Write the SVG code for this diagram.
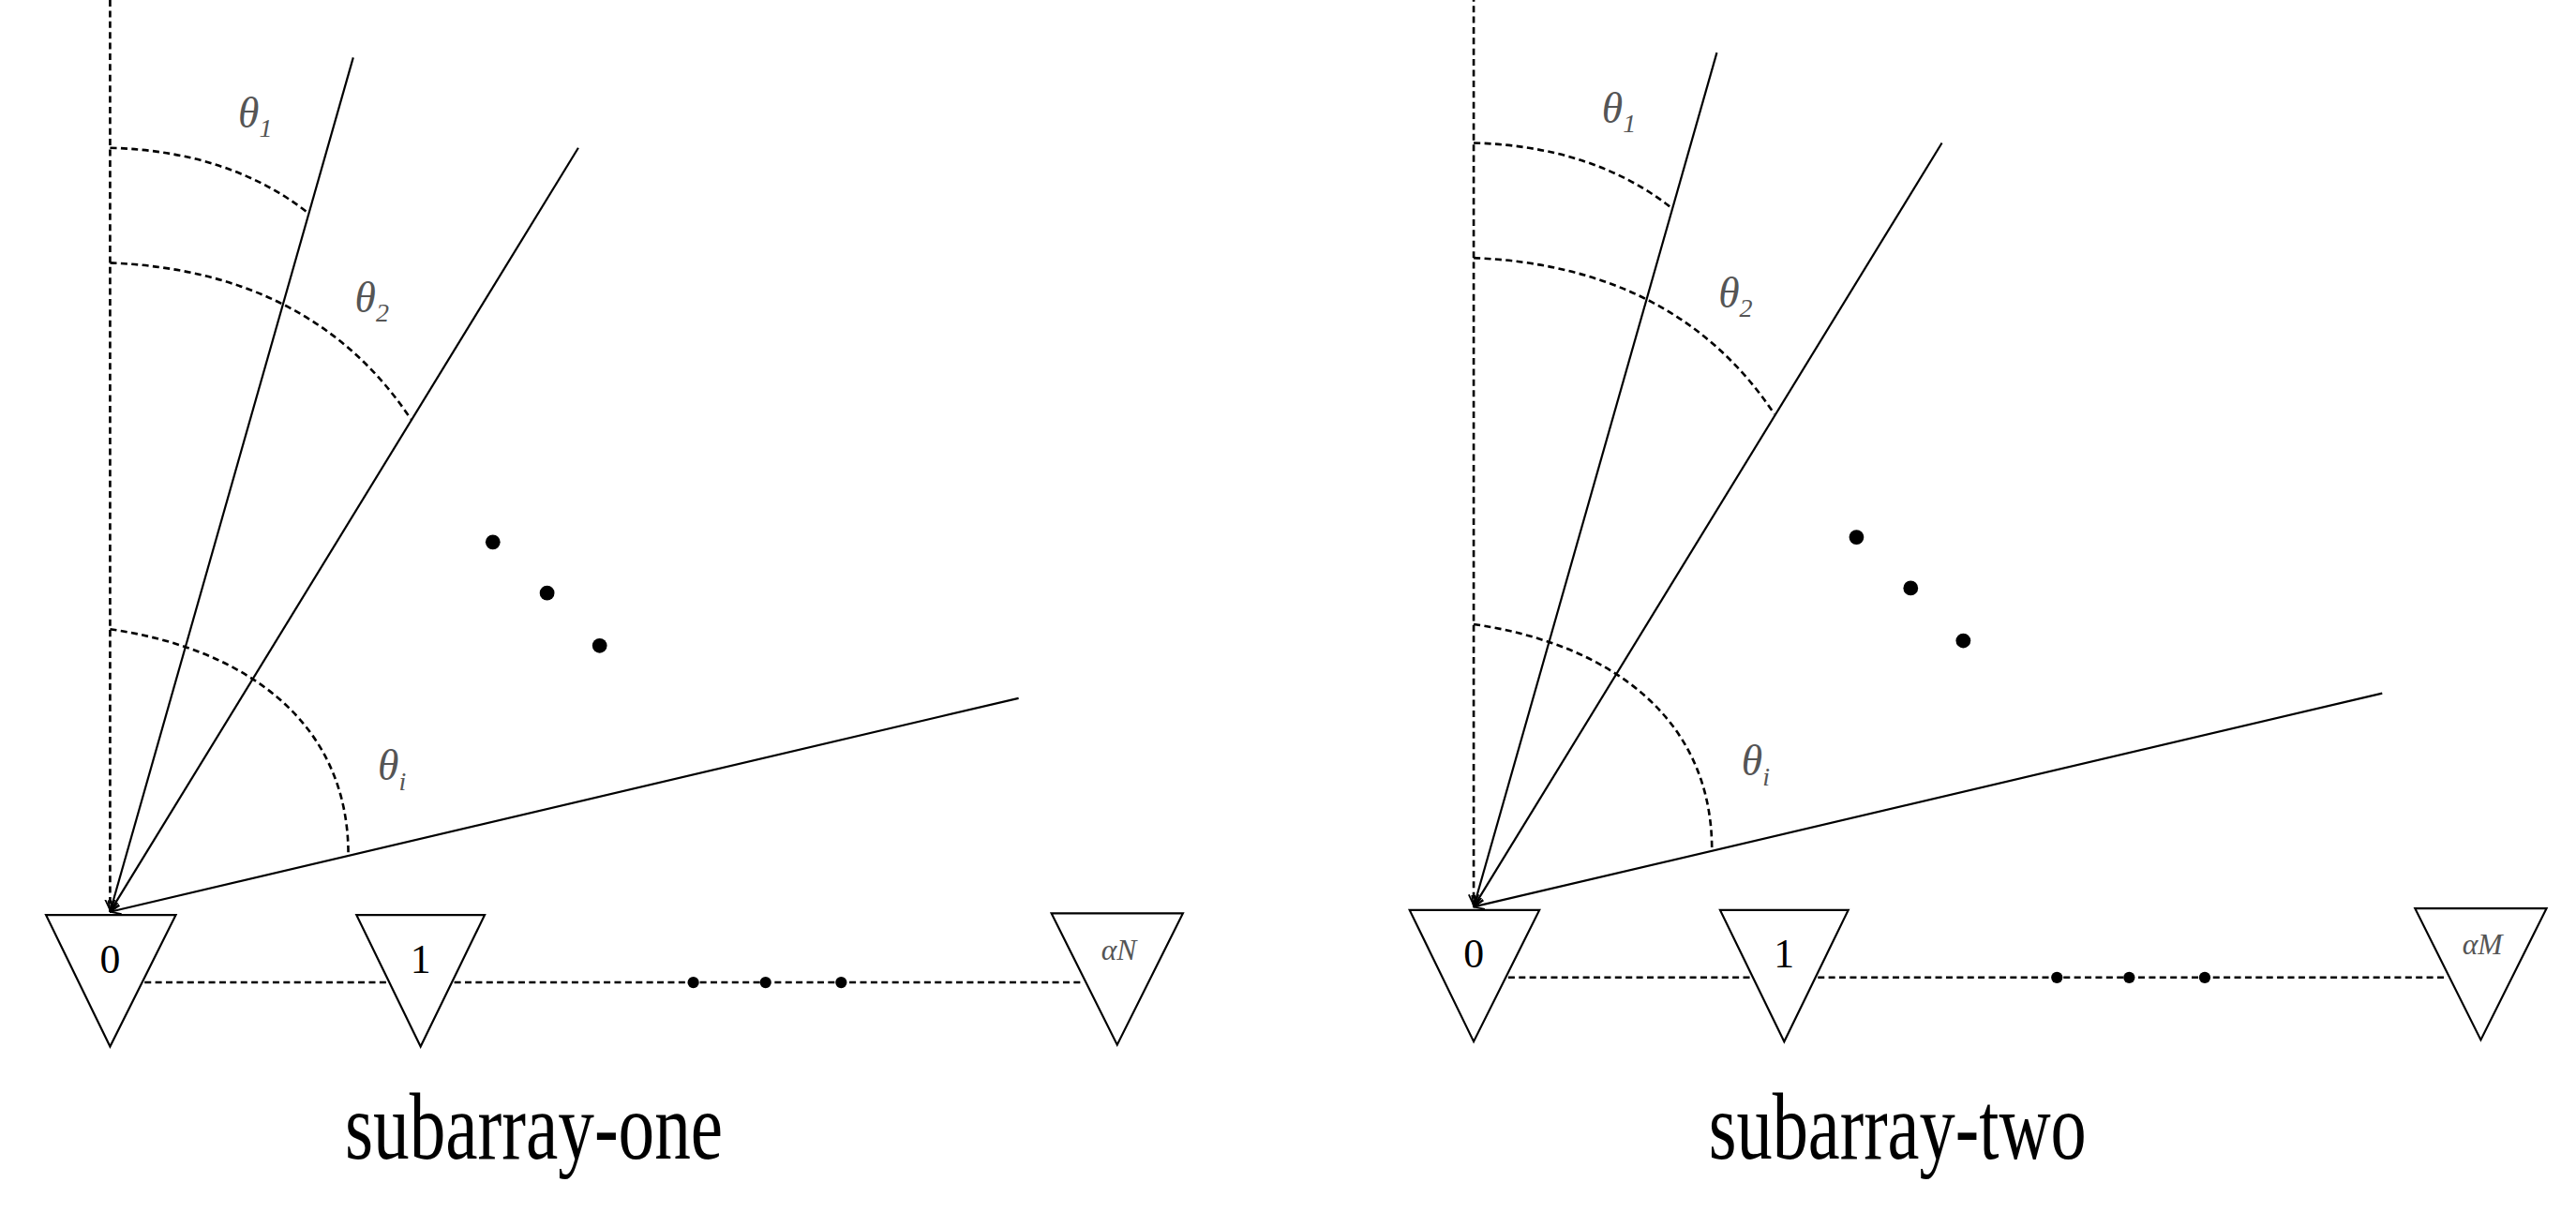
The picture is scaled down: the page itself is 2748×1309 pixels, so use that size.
<svg xmlns="http://www.w3.org/2000/svg" width="2748" height="1309" viewBox="0 0 2748 1309">
<style>
.s{stroke:#000;stroke-width:2.5;fill:none}
.d{stroke:#000;stroke-width:3;fill:none;stroke-dasharray:8,5}
.t{fill:#fff;stroke:#000;stroke-width:2.5}
.g{font-family:"Liberation Serif",serif;font-style:italic;fill:#555}
.n{font-family:"Liberation Serif",serif;fill:#000}
.cap{font-family:"Liberation Serif",serif;font-size:115px;fill:#000}
</style>
<defs>
<marker id="a" markerWidth="14" markerHeight="14" refX="13" refY="7" orient="auto" markerUnits="userSpaceOnUse"><path d="M0,1 L13,7 L0,13" fill="none" stroke="#000" stroke-width="2"/></marker>
<g id="panel">
<g id="rays">
<line class="d" x1="134" y1="0" x2="134" y2="1108" marker-end="url(#a)"/>
<line class="s" x1="430" y1="70" x2="134" y2="1110" marker-end="url(#a)"/>
<line class="s" x1="704" y1="180" x2="134" y2="1110" marker-end="url(#a)"/>
<line class="s" x1="1240" y1="850" x2="134" y2="1110" marker-end="url(#a)"/>
<path class="d" d="M134,180 Q280,184 376,260"/>
<path class="d" d="M134,320 Q380,330 500,510"/>
<path class="d" d="M134,766 C300,790 424,880 424,1040"/>
<line class="d" x1="176" y1="1196" x2="1320" y2="1196"/>
</g>
<text class="g" x="290" y="155" font-size="52">θ<tspan font-size="32" dy="12">1</tspan></text>
<text class="g" x="432" y="380" font-size="52">θ<tspan font-size="32" dy="12">2</tspan></text>
<text class="g" x="460" y="950" font-size="52">θ<tspan font-size="32" dy="12">i</tspan></text>
<circle cx="600" cy="660" r="9"/><circle cx="666" cy="722" r="9"/><circle cx="730" cy="786" r="9"/>
<circle cx="844" cy="1196" r="7"/><circle cx="932" cy="1196" r="7"/><circle cx="1024" cy="1196" r="7"/>
<polygon class="t" points="56,1114 214,1114 134,1274"/>
<polygon class="t" points="434,1114 590,1114 512,1274"/>
</g>
</defs>
<g transform="scale(0.8763)">
<g id="subarray-one">
<use href="#panel"/>
<polygon class="t" points="1280,1112 1440,1112 1360,1272"/>
<text class="n" x="134" y="1184" font-size="50" text-anchor="middle">0</text>
<text class="n" x="512" y="1184" font-size="50" text-anchor="middle">1</text>
<text class="g" x="1362" y="1168" font-size="36" text-anchor="middle">αN</text>
<text class="cap" x="420" y="1410" textLength="460" lengthAdjust="spacingAndGlyphs">subarray-one</text>
</g>
<g id="subarray-two" transform="translate(1660,-6)">
<use href="#panel"/>
<polygon class="t" points="1280,1112 1440,1112 1360,1272"/>
<text class="n" x="134" y="1184" font-size="50" text-anchor="middle">0</text>
<text class="n" x="512" y="1184" font-size="50" text-anchor="middle">1</text>
<text class="g" x="1362" y="1168" font-size="36" text-anchor="middle">αM</text>
<text class="cap" x="420" y="1416" textLength="460" lengthAdjust="spacingAndGlyphs">subarray-two</text>
</g>
</g>
</svg>
